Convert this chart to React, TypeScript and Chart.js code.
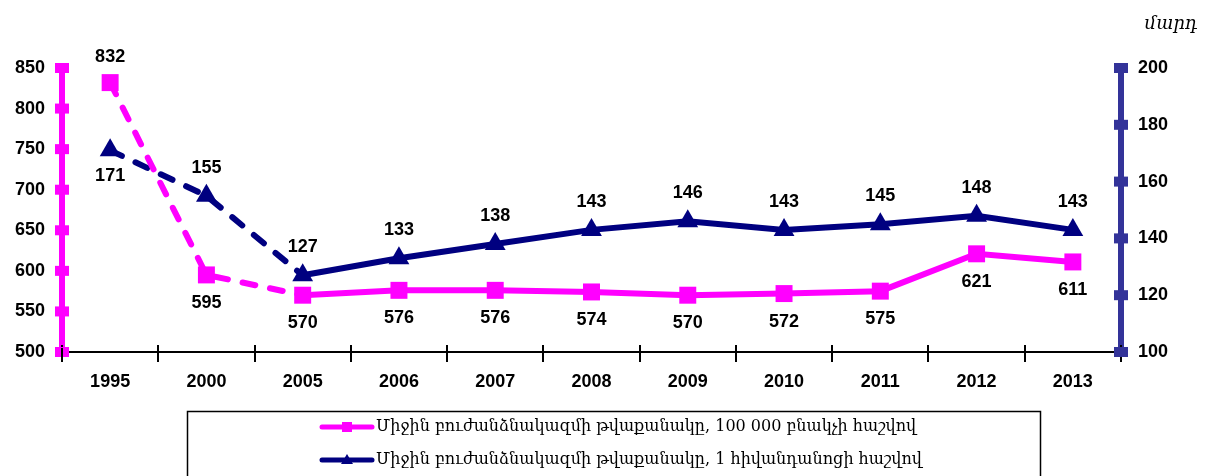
import React, { useEffect, useRef } from "react";
import { Chart, registerables } from "chart.js";

Chart.register(...registerables);

const years = ["1995", "2000", "2005", "2006", "2007", "2008", "2009", "2010", "2011", "2012", "2013"];
const staffPer100k = [832, 595, 570, 576, 576, 574, 570, 572, 575, 621, 611];
const staffPerHospital = [171, 155, 127, 133, 138, 143, 146, 143, 145, 148, 143];
const legendLabels = [
  "Միջին բուժանձնակազմի թվաքանակը, 100 000 բնակչի հաշվով",
  "Միջին բուժանձնակազմի թվաքանակը, 1 հիվանդանոցի հաշվով",
];
const unitLabel = "մարդ";

const MAGENTA = "#FF00FF";
const NAVY = "#000080";
const RIGHT_AXIS = "#333399";
const LABEL_FONT = "bold 18px 'Liberation Sans', Arial, sans-serif";

const decorPlugin = {
  id: "decor",
  afterDatasetsDraw(chart: any) {
    const ctx = chart.ctx;
    const x = chart.scales.x;
    const y = chart.scales.y;
    const y1 = chart.scales.y1;
    ctx.save();
    // x boundary ticks
    ctx.strokeStyle = "#000";
    ctx.lineWidth = 2;
    for (let i = 0; i <= years.length; i++) {
      const px = Math.round(x.getPixelForValue(i - 0.5));
      ctx.beginPath();
      ctx.moveTo(px, y.bottom - 7);
      ctx.lineTo(px, y.bottom + 10);
      ctx.stroke();
    }
    // left axis square ticks
    ctx.fillStyle = MAGENTA;
    y.ticks.forEach((t: any) => {
      const py = y.getPixelForValue(t.value);
      ctx.fillRect(y.right - 7, py - 5, 14, 10);
    });
    ctx.fillStyle = RIGHT_AXIS;
    y1.ticks.forEach((t: any) => {
      const py = y1.getPixelForValue(t.value);
      ctx.fillRect(y1.left - 7, py - 5, 14, 10);
    });
    ctx.strokeStyle = "#000";
    ctx.lineWidth = 2;
    ctx.beginPath();
    ctx.moveTo(y.right, y.bottom - 4);
    ctx.lineTo(y.right, y.bottom + 10);
    ctx.stroke();

    // data labels
    ctx.font = LABEL_FONT;
    ctx.fillStyle = "#000";
    ctx.textAlign = "center";
    ctx.textBaseline = "middle";
    const m0 = chart.getDatasetMeta(0);
    m0.data.forEach((pt: any, i: number) => {
      const dy = i === 0 ? -26 : 28;
      ctx.fillText(String(staffPer100k[i]), pt.x, pt.y + dy);
    });
    const m1 = chart.getDatasetMeta(1);
    m1.data.forEach((pt: any, i: number) => {
      const dy = i === 0 ? 26 : -28;
      ctx.fillText(String(staffPerHospital[i]), pt.x, pt.y + dy);
    });

    // unit label
    ctx.font = "italic 18px 'DejaVu Serif', serif";
    ctx.textAlign = "center";
    ctx.fillText(unitLabel, 1171, 24);

    // legend box
    ctx.strokeStyle = "#000";
    ctx.lineWidth = 1.5;
    ctx.strokeRect(187.5, 411.5, 853, 80);
    const rows = [
      { y: 427, color: MAGENTA, shape: "rect" },
      { y: 460, color: NAVY, shape: "tri" },
    ];
    rows.forEach((r, i) => {
      ctx.strokeStyle = r.color;
      ctx.fillStyle = r.color;
      ctx.lineWidth = 5;
      ctx.lineCap = "round";
      ctx.beginPath();
      ctx.moveTo(322, r.y);
      ctx.lineTo(372, r.y);
      ctx.stroke();
      if (r.shape === "rect") {
        ctx.fillRect(342, r.y - 5, 10, 10);
      } else {
        ctx.beginPath();
        ctx.moveTo(347, r.y - 6);
        ctx.lineTo(353, r.y + 4);
        ctx.lineTo(341, r.y + 4);
        ctx.closePath();
        ctx.fill();
      }
      ctx.fillStyle = "#000";
      ctx.font = "16px 'DejaVu Serif', serif";
      ctx.textAlign = "left";
      ctx.textBaseline = "middle";
      ctx.fillText(legendLabels[i], 376, r.y);
    });
    ctx.restore();
  },
};

export default function App() {
  const ref = useRef<HTMLCanvasElement>(null);
  useEffect(() => {
    if (!ref.current) return;
    const dash = (c: any) => (c.p0DataIndex < 2 ? [13, 15] : undefined);
    const chart = new Chart(ref.current, {
      type: "line",
      data: {
        labels: years,
        datasets: [
          {
            label: legendLabels[0],
            data: staffPer100k,
            yAxisID: "y",
            borderColor: MAGENTA,
            backgroundColor: MAGENTA,
            borderWidth: 6,
            borderCapStyle: "round",
            pointStyle: "rect",
            pointRadius: 12,
            pointBorderWidth: 0,
            tension: 0,
            segment: { borderDash: dash },
          },
          {
            label: legendLabels[1],
            data: staffPerHospital,
            yAxisID: "y1",
            borderColor: NAVY,
            backgroundColor: NAVY,
            borderWidth: 6,
            borderCapStyle: "round",
            pointStyle: "triangle",
            pointRadius: 12,
            pointBorderWidth: 0,
            tension: 0,
            segment: { borderDash: dash },
          },
        ],
      },
      options: {
        responsive: false,
        animation: false,
        layout: { padding: { top: 68, left: 0, right: 0, bottom: 0 } },
        plugins: { legend: { display: false }, tooltip: { enabled: false } },
        scales: {
          x: {
            type: "category",
            offset: true,
            grid: { display: false, drawTicks: false },
            border: { display: true, color: "#000", width: 2 },
            ticks: {
              color: "#000",
              padding: 19,
              font: { family: "'Liberation Sans Narrow', 'Liberation Sans', sans-serif", size: 18, weight: "bold" },
            },
            afterFit: (s: any) => { s.height = 124; },
          },
          y: {
            position: "left",
            min: 500,
            max: 850,
            grid: { display: false, drawTicks: false },
            border: { display: true, color: MAGENTA, width: 6 },
            ticks: {
              stepSize: 50,
              color: "#000",
              padding: 17,
              font: { family: "'Liberation Sans', sans-serif", size: 18, weight: "bold" },
            },
            afterFit: (s: any) => { s.width = 62; },
          },
          y1: {
            position: "right",
            min: 100,
            max: 200,
            grid: { display: false, drawTicks: false },
            border: { display: true, color: RIGHT_AXIS, width: 6 },
            ticks: {
              stepSize: 20,
              color: "#000",
              padding: 17,
              font: { family: "'Liberation Sans', sans-serif", size: 18, weight: "bold" },
            },
            afterFit: (s: any) => { s.width = 88; },
          },
        },
      },
      plugins: [decorPlugin],
    });
    return () => chart.destroy();
  }, []);
  return (
    <div style={{ position: "absolute", left: 0, top: 0, width: 1209, height: 476, background: "#fff" }}>
      <canvas ref={ref} width={1209} height={476} />
    </div>
  );
}
